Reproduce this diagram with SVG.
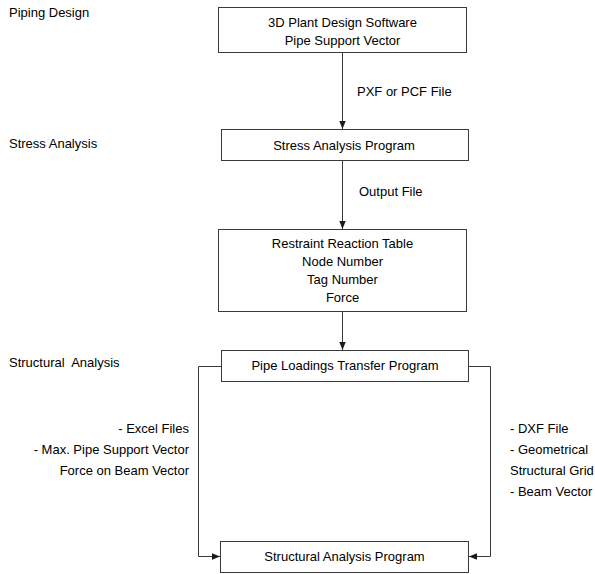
<svg xmlns="http://www.w3.org/2000/svg" width="595" height="574" viewBox="0 0 595 574">
<defs>
<marker id="ah" viewBox="0 0 8 8" refX="8" refY="4" markerWidth="8" markerHeight="8" markerUnits="userSpaceOnUse" orient="auto">
<path d="M0,0.8 L8,4 L0,7.2 Z" fill="#1a1a1a"/>
</marker>
<style>
.box{fill:#fff;stroke:#3a3a3a;stroke-width:1}
.c{fill:none;stroke:#3a3a3a;stroke-width:1}
text{font-family:"Liberation Sans",Arial,sans-serif;font-size:13px;fill:#000}
.m{text-anchor:middle}
.e{text-anchor:end}
</style>
</defs>
<rect width="595" height="574" fill="#fff"/>
<g id="section-labels">
<text x="9" y="17">Piping Design</text>
<text x="9" y="148">Stress Analysis</text>
<text x="9" y="367" style="white-space:pre">Structural  Analysis</text>
</g>
<g id="connectors">
<line class="c" x1="342.5" y1="53" x2="342.5" y2="129" marker-end="url(#ah)"/>
<line class="c" x1="342.5" y1="161" x2="342.5" y2="229" marker-end="url(#ah)"/>
<line class="c" x1="342.5" y1="312" x2="342.5" y2="350" marker-end="url(#ah)"/>
<polyline class="c" points="221.5,366.5 198.5,366.5 198.5,556.5 220,556.5" marker-end="url(#ah)"/>
<polyline class="c" points="468.5,366.5 490.5,366.5 490.5,556.5 469,556.5" marker-end="url(#ah)"/>
</g>
<g id="connector-labels">
<text x="357" y="96">PXF or PCF File</text>
<text x="359" y="196">Output File</text>
<text class="e" x="189" y="433">- Excel Files</text>
<text class="e" x="189" y="454">- Max. Pipe Support Vector</text>
<text class="e" x="189" y="475">Force on Beam Vector</text>
<text x="510" y="433">- DXF File</text>
<text x="510" y="454">- Geometrical</text>
<text x="510" y="475">Structural Grid</text>
<text x="510" y="496">- Beam Vector</text>
</g>
<g id="node-plant-design">
<rect class="box" x="218.5" y="7.5" width="248" height="45"/>
<text class="m" x="342.5" y="27">3D Plant Design Software</text>
<text class="m" x="342.5" y="44.5">Pipe Support Vector</text>
</g>
<g id="node-stress-program">
<rect class="box" x="221.5" y="129.5" width="247" height="31"/>
<text class="m" x="344" y="149.5">Stress Analysis Program</text>
</g>
<g id="node-restraint-table">
<rect class="box" x="218.5" y="229.5" width="248" height="82"/>
<text class="m" x="342.5" y="247.5">Restraint Reaction Table</text>
<text class="m" x="342.5" y="265.5">Node Number</text>
<text class="m" x="342.5" y="283.5">Tag Number</text>
<text class="m" x="342.5" y="301.5">Force</text>
</g>
<g id="node-transfer-program">
<rect class="box" x="221.5" y="350.5" width="247" height="31"/>
<text class="m" x="345" y="369.5">Pipe Loadings Transfer Program</text>
</g>
<g id="node-structural-program">
<rect class="box" x="220.5" y="541.5" width="248" height="31"/>
<text class="m" x="344.5" y="561">Structural Analysis Program</text>
</g>
</svg>
